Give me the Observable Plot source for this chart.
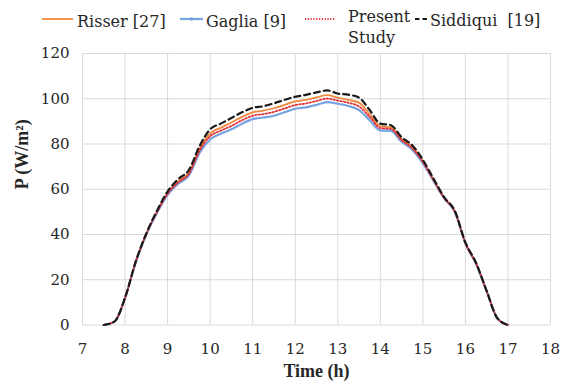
<!DOCTYPE html>
<html>
<head>
<meta charset="utf-8">
<script src="https://cdn.jsdelivr.net/npm/d3@7"></script>
<script src="https://cdn.jsdelivr.net/npm/@observablehq/plot@0.6"></script>
<style>
  body { margin: 0; background: #fff; font-family: "DejaVu Serif", serif; }
  #wrap { position: relative; width: 563px; height: 385px; }
  #legend { position: relative; height: 44px; width: 563px; font-size: 16px; color: #262626; }
  .item { position: absolute; line-height: 21px; white-space: nowrap; }
  .sw { position: absolute; }
</style>
</head>
<body>
<div id="wrap">
  <div id="legend"></div>
  <div id="chart"></div>
</div>
<script>
const time = [7.5,7.75,8,8.25,8.5,8.75,9,9.25,9.5,9.75,10,10.25,10.5,10.75,11,11.25,11.5,11.75,12,12.25,12.5,12.75,13,13.25,13.5,13.75,14,14.25,14.5,14.75,15,15.25,15.5,15.75,16,16.25,16.5,16.75,17];
const risser = [0,1.5,12,28,40.3,50,58.3,63.5,67.3,77.8,84.7,87.2,89.5,92,94,94.7,95.8,97.3,98.8,99.5,100.6,101.6,100.5,99.5,98.3,93.2,87.8,87.3,82.2,78.7,72.4,64.3,56.3,50.3,36.3,27.3,15,3,0];
const gaglia = [0,1.5,12,27.5,40,49.5,57.5,62.5,66,76,82,84.5,86.5,89,91,91.7,92.5,94,95.6,96.2,97.3,98.5,97.8,96.8,95,90.5,86,85.8,81,77.5,71.5,63.7,56,50,36,27,15,3,0];
const present = [0,1.5,12,27.8,40.2,49.8,58,63,66.8,77,83.4,85.9,88,90.5,92.5,93.2,94.2,95.7,97.2,97.9,99,100.1,99.2,98.2,96.6,92,87,86.6,81.7,78.1,72,64,56.1,50.1,36.1,27.1,15,3,0];
const siddiqui = [0,1.5,12,28,40.5,50.5,59,64.5,68.5,79,86.5,89,91.5,94,96,96.7,98,99.5,100.9,101.7,102.8,103.7,102.3,101.8,100.5,95,89,88.3,83,79.5,73,64.7,56.5,50.5,36.5,27.5,15,3,0];

const xTicks = [7,8,9,10,11,12,13,14,15,16,17,18];
const yTicks = [0,20,40,60,80,100,120];

const seriesNames = ["Risser  [27]", "Gaglia  [9]", "Present Study", "Siddiqui  [19]"];
const seriesStyles = [
  {stroke: "#f0883c", strokeWidth: 1.8, dash: null},
  {stroke: "#74a3e2", strokeWidth: 2.2, dash: null},
  {stroke: "#e0303a", strokeWidth: 1.8, dash: "1.5 2"},
  {stroke: "#1a1a1a", strokeWidth: 2.2, dash: "6 4"}
];
const seriesValues = [risser, gaglia, present, siddiqui];

// legend (HTML)
const legendPos = [
  {sx: 42, sw: 31, sy: 19, tx: 77, ty: 11, text: "Risser&nbsp;[27]", dash: null},
  {sx: 180, sw: 23, sy: 19, tx: 206, ty: 11, text: "Gaglia&nbsp;[9]", dash: null, dot: true},
  {sx: 305, sw: 30, sy: 19, tx: 348, ty: 6, text: "Present<br>Study", dash: "1.2 1.6"},
  {sx: 415, sw: 13, sy: 19, tx: 430, ty: 10, text: "Siddiqui&nbsp;&nbsp;[19]", dash: "4.5 3"}
];
const legend = document.getElementById("legend");
const NS = "http://www.w3.org/2000/svg";
legendPos.forEach((p, i) => {
  const s = seriesStyles[i];
  const sw = document.createElementNS(NS, "svg");
  sw.setAttribute("class", "sw");
  sw.setAttribute("width", p.sw);
  sw.setAttribute("height", 6);
  sw.style.left = p.sx + "px";
  sw.style.top = (p.sy - 3) + "px";
  const ln = document.createElementNS(NS, "line");
  ln.setAttribute("x1", 0); ln.setAttribute("x2", p.sw);
  ln.setAttribute("y1", 3); ln.setAttribute("y2", 3);
  ln.setAttribute("stroke", s.stroke);
  ln.setAttribute("stroke-width", s.strokeWidth);
  if (p.dash) ln.setAttribute("stroke-dasharray", p.dash);
  sw.appendChild(ln);
  if (p.dot) {
    const c = document.createElementNS(NS, "circle");
    c.setAttribute("cx", p.sw / 2); c.setAttribute("cy", 3); c.setAttribute("r", 1.8);
    c.setAttribute("fill", s.stroke);
    sw.appendChild(c);
  }
  legend.appendChild(sw);
  const t = document.createElement("div");
  t.className = "item";
  t.style.left = p.tx + "px";
  t.style.top = p.ty + "px";
  t.innerHTML = p.text;
  legend.appendChild(t);
});

const data = [];
seriesValues.forEach((vals, i) => vals.forEach((v, j) => data.push({t: time[j], p: v, s: seriesNames[i]})));

const lineMarks = seriesNames.map((name, i) => Plot.line(data.filter(d => d.s === name), {
  x: "t", y: "p", stroke: seriesStyles[i].stroke, strokeWidth: seriesStyles[i].strokeWidth,
  strokeDasharray: seriesStyles[i].dash ?? undefined, curve: "monotone-x"
}));

const FONT = '"DejaVu Serif", serif';
const chart = Plot.plot({
  width: 563,
  height: 341,
  marginLeft: 82,
  marginRight: 13,
  marginTop: 9,
  marginBottom: 60.5,
  style: {fontFamily: FONT, fontSize: "15px", color: "#262626", background: "#fff"},
  x: {domain: [7, 18], ticks: xTicks},
  y: {domain: [0, 120], ticks: yTicks},
  marks: [
    Plot.ruleX(xTicks, {stroke: "#d9d9d9", strokeWidth: 1}),
    Plot.ruleY(yTicks, {stroke: "#d9d9d9", strokeWidth: 1}),
    ...lineMarks,
    Plot.axisX({ticks: xTicks, tickSize: 0, tickPadding: 18, label: null, fontSize: 15}),
    Plot.axisY({ticks: yTicks, tickSize: 0, tickPadding: 13, label: null, fontSize: 15}),
    Plot.text(["Time (h)"], {text: d => d, frameAnchor: "bottom", dy: 52, fontWeight: "bold", fontSize: 18, fill: "#262626", fontFamily: '"Liberation Serif", "Times New Roman", serif'}),
    Plot.text(["P (W/m²)"], {text: d => d, frameAnchor: "left", dx: -60, rotate: -90, fontWeight: "bold", fontSize: 18, fill: "#262626", fontFamily: '"Liberation Serif", "Times New Roman", serif'})
  ]
});
document.getElementById("chart").appendChild(chart);
</script>
</body>
</html>
